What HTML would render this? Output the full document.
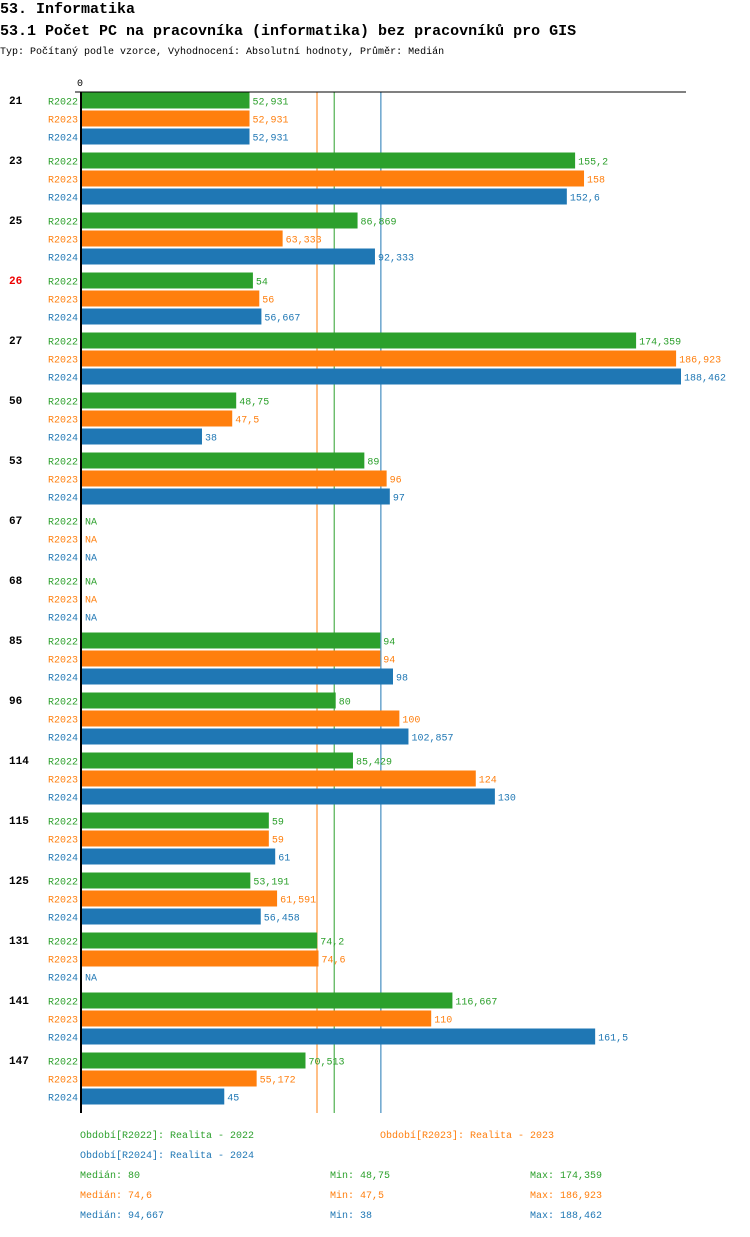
<!DOCTYPE html>
<html><head><meta charset="utf-8"><style>
body{margin:0;background:#fff;width:750px;height:1232px;overflow:hidden;font-family:"Liberation Mono","DejaVu Sans Mono",monospace}
svg text{font-family:"Liberation Mono","DejaVu Sans Mono",monospace}
</style></head><body>
<svg id="c" width="750" height="1232" xmlns="http://www.w3.org/2000/svg">
<text x="0" y="13" font-size="15" font-weight="bold">53. Informatika</text>
<text x="0" y="35" font-size="15" font-weight="bold">53.1 Počet PC na pracovníka (informatika) bez pracovníků pro GIS</text>
<text x="0" y="54" font-size="10">Typ: Počítaný podle vzorce, Vyhodnocení: Absolutní hodnoty, Průměr: Medián</text>
<text x="77" y="86" font-size="10">0</text>
</svg>
<script>
const categories=["21","23","25","26","27","50","53","67","68","85","96","114","115","125","131","141","147"];
const r2022=[52.931,155.2,86.869,54,174.359,48.75,89,null,null,94,80,85.429,59,53.191,74.2,116.667,70.513];
const r2023=[52.931,158,63.333,56,186.923,47.5,96,null,null,94,100,124,59,61.591,74.6,110,55.172];
const r2024=[52.931,152.6,92.333,56.667,188.462,38,97,null,null,98,102.857,130,61,56.458,null,161.5,45];
const seriesNames=["R2022","R2023","R2024"];
const medians=[80,74.6,94.667];
const mins=[48.75,47.5,38];
const maxs=[174.359,186.923,188.462];
const colors=["#2ca02c","#ff7f0e","#1f77b4"];
const svg=document.getElementById('c');
const NS="http://www.w3.org/2000/svg";
const X0=81,MAXV=188.462,W=600,TOP=92,GSTEP=60;
const xs=v=>X0+v/MAXV*W;
const fmt=v=>v===null?"NA":String(v).replace('.',',');
function mk(tag,attrs,txt){const e=document.createElementNS(NS,tag);for(const k in attrs)e.setAttribute(k,attrs[k]);if(txt!==undefined)e.textContent=txt;svg.appendChild(e);return e;}
const series=[r2022,r2023,r2024];
const bottom=TOP+categories.length*GSTEP+1;
medians.forEach((m,j)=>{
  const ln=mk('line',{x1:xs(m)-1.5,x2:xs(m)-1.5,y1:TOP,y2:bottom,stroke:colors[j],'stroke-width':1});
  
  
});
categories.forEach((c,i)=>{
  const gy=TOP+i*GSTEP;
  const t=mk('text',{x:9,y:gy+12,'font-size':11,'font-weight':'bold',fill:c==="26"?"#e00":"#000"},c);
  
  
  series.forEach((s,j)=>{
    const y=gy+0.5+j*18;
    const l=mk('text',{x:78,y:y+12,'font-size':10,'text-anchor':'end',fill:colors[j]},seriesNames[j]);
    
    
    const v=s[i];
    let end=X0+1;
    if(v!==null){
      const r=mk('rect',{x:X0+1,y:y,width:xs(v)-X0-1,height:16,fill:colors[j]});
      
      
      end=xs(v);
    }
    const vt=mk('text',{x:end+3,y:y+12,'font-size':10,fill:colors[j]},fmt(v));
    
    
  });
});
const ax=mk('line',{x1:75,x2:686,y1:TOP,y2:TOP,stroke:'#000','stroke-width':1});


const ay=mk('line',{x1:81,x2:81,y1:TOP,y2:bottom,stroke:'#000','stroke-width':2});


const legs=[[80,1138,0,"Období[R2022]: Realita - 2022"],[380,1138,1,"Období[R2023]: Realita - 2023"],[80,1158,2,"Období[R2024]: Realita - 2024"]];
legs.forEach(L=>{
  const t=mk('text',{x:L[0],y:L[1],'font-size':10,fill:colors[L[2]]},L[3]);
  
  
});
[0,1,2].forEach(j=>{
  const y=1178+j*20;
  const a=mk('text',{x:80,y:y,'font-size':10,fill:colors[j]},"Medián: "+fmt(medians[j]));
  
  
  const b=mk('text',{x:330,y:y,'font-size':10,fill:colors[j]},"Min: "+fmt(mins[j]));
  
  
  const d=mk('text',{x:530,y:y,'font-size':10,fill:colors[j]},"Max: "+fmt(maxs[j]));
  
  
});
</script>
</body></html>
